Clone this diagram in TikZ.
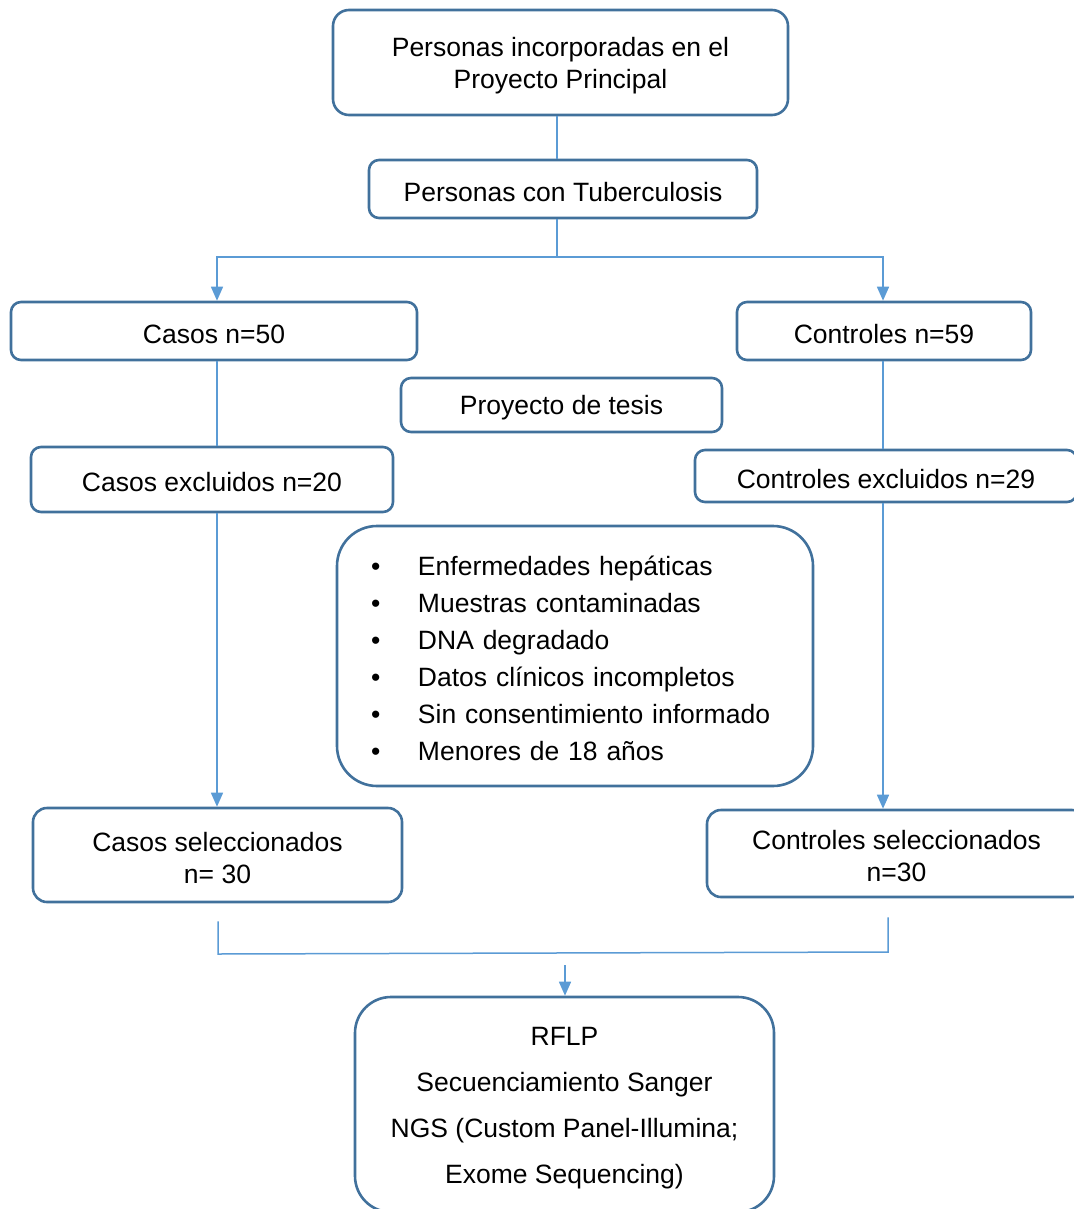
\documentclass[tikz,border=0pt]{standalone}
\usepackage{fontspec}
\setmainfont{Liberation Sans}
\usepackage{xcolor}
\usepackage{tikz}
\usetikzlibrary{positioning}
\usetikzlibrary{arrows.meta}
\definecolor{cajaborde}{HTML}{41719C}
\definecolor{conector}{HTML}{5B9BD5}
\newcommand{\puntal}{\rule{0pt}{12.5pt}}

\begin{document}
\begin{tikzpicture}[x=0.5pt, y=-0.5pt,
    caja/.style={draw=cajaborde, line width=1.3pt, rounded corners=5pt, inner sep=0pt, align=center, font=\fontsize{13.25}{16}\selectfont, execute at begin node={\puntal}},
    linea/.style={draw=conector, line width=0.75pt},
    flecha/.style={linea, -{Triangle[length=7pt, width=6pt]}}]
  \clip (0,0) rectangle (1074,1209);
  % cajas
  \node[caja, rounded corners=8pt, minimum width=227.5pt, minimum height=52.5pt] (principal) at (560.5,62.5) {\puntal Personas incorporadas en el\\Proyecto Principal};
  \node[caja, minimum width=194pt, minimum height=29pt] (tb) at (563,189) {Personas con Tuberculosis};
  \node[caja, minimum width=203pt, minimum height=29pt] (casos) at (214,331) {Casos n=50};
  \node[caja, minimum width=147pt, minimum height=29pt] (controles) at (884,331) {Controles n=59};
  \node[caja, minimum width=160.5pt, minimum height=27pt] (tesis) at (561.5,405) {Proyecto de tesis};
  \node[caja, minimum width=181pt, minimum height=32.5pt] (casosexc) at (212,479.5) {Casos excluidos n=20};
  \node[caja, minimum width=191pt, minimum height=26pt] (ctrlexc) at (886,476) {Controles excluidos n=29};
  \node[caja, rounded corners=20pt, minimum width=238pt, minimum height=130pt, text width=204pt, inner xsep=17pt, align=left, font=\fontsize{13.25}{18.5}\selectfont] (criterios) at (575,656) {%
    \makebox[23.5pt][l]{\textbullet}Enfermedades hepáticas\\
    \makebox[23.5pt][l]{\textbullet}Muestras contaminadas\\
    \makebox[23.5pt][l]{\textbullet}DNA degradado\\
    \makebox[23.5pt][l]{\textbullet}Datos clínicos incompletos\\
    \makebox[23.5pt][l]{\textbullet}Sin consentimiento informado\\
    \makebox[23.5pt][l]{\textbullet}Menores de 18 años};
  \node[caja, rounded corners=7pt, minimum width=184.5pt, minimum height=47pt] (casossel) at (217.5,855) {\puntal Casos seleccionados\\n= 30};
  \node[caja, rounded corners=7pt, minimum width=189.5pt, minimum height=43.5pt] (ctrlsel) at (896.5,853.5) {\puntal Controles seleccionados\\n=30};
  \node[caja, rounded corners=18pt, minimum width=209.5pt, minimum height=107.5pt, font=\fontsize{13.25}{23}\selectfont] (tecnicas) at (564.5,1104.5) {\puntal RFLP\\Secuenciamiento Sanger\\NGS (Custom Panel-Illumina;\\Exome Sequencing)};
  % conectores
  \coordinate (colL) at (217,0);
  \coordinate (colR) at (883,0);
  \coordinate (division) at (557,257);
  \draw[linea] (principal.south -| division) -- (tb.north -| division);
  \draw[linea] (tb.south -| division) -- (division);
  \draw[flecha] (division) -- (division -| colL) -- (colL |- casos.north);
  \draw[flecha] (division) -- (division -| colR) -- (colR |- controles.north);
  \draw[linea] (colL |- casos.south) -- (colL |- casosexc.north);
  \draw[linea] (colR |- controles.south) -- (colR |- ctrlexc.north);
  \draw[flecha] (colL |- casosexc.south) -- (colL |- casossel.north);
  \draw[flecha] (colR |- ctrlexc.south) -- (colR |- ctrlsel.north);
  \coordinate (unionL) at (218,954);
  \coordinate (unionR) at (888,952);
  \coordinate (entrada) at (565,965);
  \draw[linea] ([yshift=-9pt]unionL |- casossel.south) -- (unionL) -- (unionR) -- ([yshift=-9.5pt]unionR |- ctrlsel.south);
  \draw[flecha] (entrada) -- (entrada |- tecnicas.north);
\end{tikzpicture}
\end{document}
